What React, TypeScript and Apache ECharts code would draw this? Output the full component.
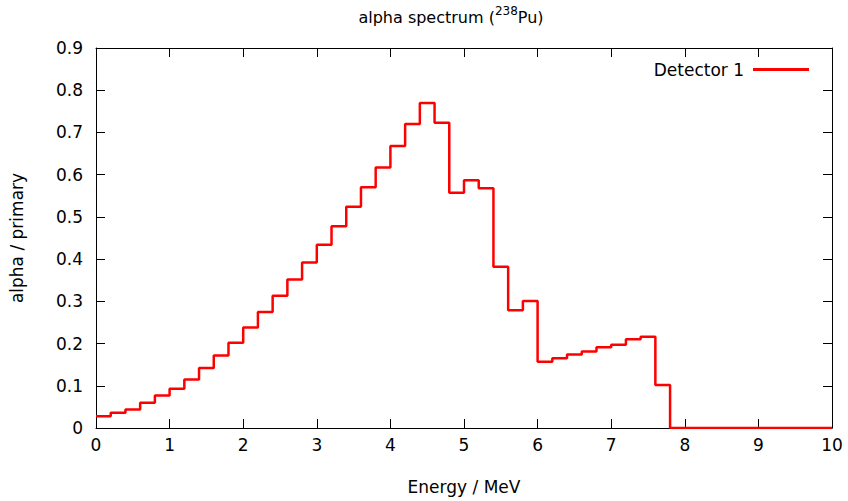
import React, { useEffect, useRef } from "react";
import * as echarts from "echarts";

const binWidth = 0.2; // MeV
const binStart = 0;
const counts = [
  0.028, 0.036, 0.044, 0.060, 0.077, 0.093, 0.115, 0.142, 0.172, 0.202,
  0.238, 0.275, 0.313, 0.352, 0.392, 0.434, 0.478, 0.524, 0.570, 0.617,
  0.668, 0.720, 0.770, 0.723, 0.557, 0.587, 0.568, 0.382, 0.279, 0.301,
  0.157, 0.165, 0.174, 0.181, 0.191, 0.197, 0.210, 0.216, 0.102, 0,
  0, 0, 0, 0, 0, 0, 0, 0, 0, 0,
];
const xTicks = [0, 1, 2, 3, 4, 5, 6, 7, 8, 9, 10];
const yTicks = [0, 0.1, 0.2, 0.3, 0.4, 0.5, 0.6, 0.7, 0.8, 0.9];
const seriesName = "Detector 1";

const FONT = "DejaVu Sans";

export default function App() {
  const ref = useRef<HTMLDivElement>(null);
  useEffect(() => {
    if (!ref.current) return;
    const chart = echarts.init(ref.current, undefined, { renderer: "svg" });
    const data: number[][] = counts.map((v, i) => [binStart + i * binWidth, v]);
    data.push([binStart + counts.length * binWidth, counts[counts.length - 1]]);

    const xMin = xTicks[0];
    const xMax = xTicks[xTicks.length - 1];
    const yMin = yTicks[0];
    const yMax = yTicks[yTicks.length - 1];
    const tick = () => ({ show: true, inside: true, length: 9, lineStyle: { color: "#000", width: 1 } });
    const axisLine = () => ({ show: true, onZero: false, lineStyle: { color: "#000", width: 1 } });
    const label = () => ({ color: "#000", fontFamily: FONT, fontSize: 17 });

    chart.setOption({
      animation: false,
      backgroundColor: "#fff",
      title: {
        text: "{a|alpha spectrum (}{s|238}{a|Pu)}",
        left: 446,
        textAlign: "center",
        top: 0,
        textStyle: {
          fontWeight: "normal",
          rich: {
            a: { fontFamily: FONT, fontSize: 16, fontWeight: "normal", color: "#000", lineHeight: 20, verticalAlign: "bottom" },
            s: { fontFamily: FONT, fontSize: 12, fontWeight: "normal", color: "#000", lineHeight: 20, verticalAlign: "bottom", padding: [0, 0, 8, 0] },
          },
        },
      },
      legend: {
        show: true,
        right: 34,
        top: 56,
        align: "right",
        icon: "rect",
        itemWidth: 56,
        itemHeight: 3,
        data: [seriesName],
        textStyle: { ...label(), padding: [0, 4, 0, 0] },
      },
      grid: { left: 96, right: 16, top: 48, bottom: 73, show: false },
      xAxis: [
        {
          type: "value",
          min: xMin,
          max: xMax,
          interval: 1,
          position: "bottom",
          name: "Energy / MeV",
          nameLocation: "middle",
          nameGap: 50,
          nameTextStyle: label(),
          axisLine: axisLine(),
          axisTick: tick(),
          axisLabel: { ...label(), margin: 8 },
          splitLine: { show: false },
        },
        {
          type: "value",
          min: xMin,
          max: xMax,
          interval: 1,
          position: "top",
          axisLine: axisLine(),
          axisTick: tick(),
          axisLabel: { show: false },
          splitLine: { show: false },
        },
      ],
      yAxis: [
        {
          type: "value",
          min: yMin,
          max: yMax,
          interval: 0.1,
          position: "left",
          name: "alpha / primary",
          nameLocation: "middle",
          nameGap: 71,
          nameTextStyle: label(),
          axisLine: axisLine(),
          axisTick: tick(),
          axisLabel: { ...label(), margin: 13 },
          splitLine: { show: false },
        },
        {
          type: "value",
          min: yMin,
          max: yMax,
          interval: 0.1,
          position: "right",
          axisLine: axisLine(),
          axisTick: tick(),
          axisLabel: { show: false },
          splitLine: { show: false },
        },
      ],
      series: [
        {
          name: seriesName,
          type: "line",
          step: "end",
          data,
          symbol: "none",
          color: "#ff0000",
          lineStyle: { color: "#ff0000", width: 2.5 },
        },
      ],
    });
    return () => chart.dispose();
  }, []);
  return <div ref={ref} style={{ position: "fixed", left: 0, top: 0, width: 848, height: 501 }} />;
}
